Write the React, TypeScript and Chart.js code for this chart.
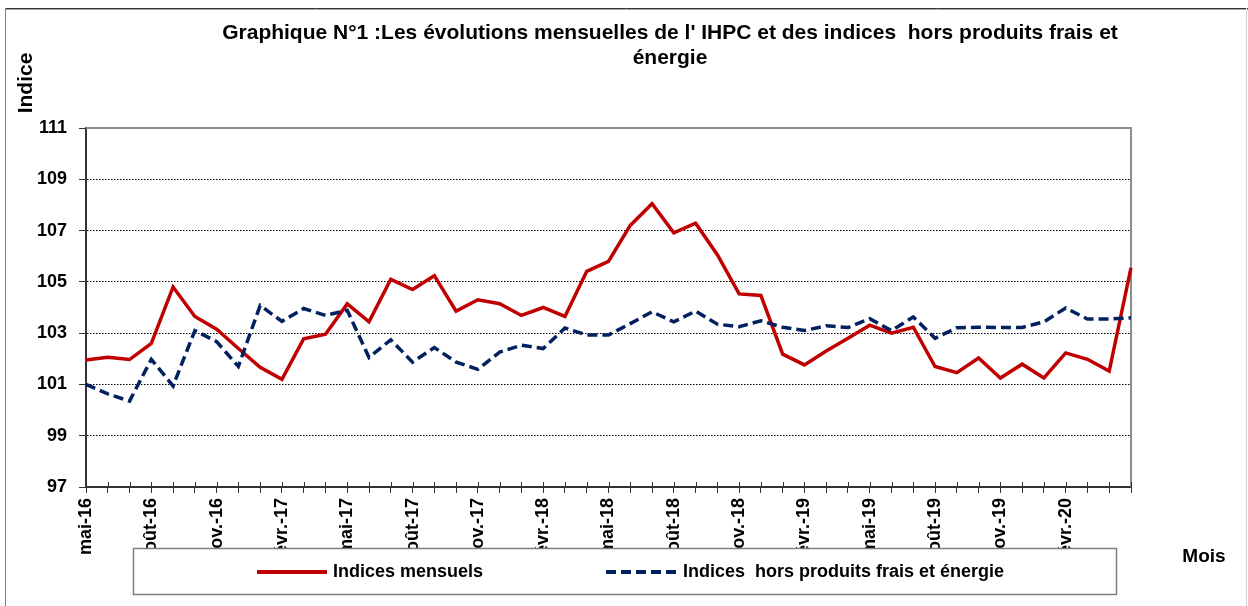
import React, { useEffect, useRef } from "react";
import { Chart, registerables } from "chart.js";

Chart.register(...registerables);

const MONTHS: string[] = [
  "mai-16", "juin-16", "juil.-16", "août-16", "sept.-16", "oct.-16", "nov.-16", "déc.-16",
  "janv.-17", "févr.-17", "mars-17", "avr.-17", "mai-17", "juin-17", "juil.-17", "août-17", "sept.-17", "oct.-17", "nov.-17", "déc.-17",
  "janv.-18", "févr.-18", "mars-18", "avr.-18", "mai-18", "juin-18", "juil.-18", "août-18", "sept.-18", "oct.-18", "nov.-18", "déc.-18",
  "janv.-19", "févr.-19", "mars-19", "avr.-19", "mai-19", "juin-19", "juil.-19", "août-19", "sept.-19", "oct.-19", "nov.-19", "déc.-19",
  "janv.-20", "févr.-20", "mars-20", "avr.-20", "mai-20",
];

const IHPC: number[] = [
  101.95, 102.06, 101.97, 102.6, 104.8, 103.65, 103.15, 102.4, 101.67, 101.2,
  102.78, 102.96, 104.14, 103.44, 105.1, 104.7, 105.24, 103.86, 104.3, 104.15,
  103.69, 104.0, 103.65, 105.41, 105.8, 107.2, 108.05, 106.91, 107.29, 106.06,
  104.53, 104.47, 102.18, 101.76, 102.3, 102.8, 103.31, 103.0, 103.23, 101.7,
  101.46, 102.03, 101.25, 101.79, 101.25, 102.23, 101.98, 101.52, 105.55,
];

const CORE: number[] = [
  101.0, 100.63, 100.35, 101.98, 100.94, 103.1, 102.67, 101.7, 104.08, 103.46,
  103.96, 103.69, 103.89, 102.05, 102.74, 101.87, 102.44, 101.87, 101.59, 102.26,
  102.53, 102.4, 103.2, 102.93, 102.93, 103.37, 103.83, 103.44, 103.86, 103.35,
  103.25, 103.48, 103.23, 103.1, 103.29, 103.22, 103.56, 103.1, 103.63, 102.8,
  103.21, 103.23, 103.22, 103.22, 103.44, 103.98, 103.55, 103.55, 103.6,
];

const SERIES_NAMES: string[] = ["Indices mensuels", "Indices  hors produits frais et énergie"];
const TITLE_LINES: string[] = [
  "Graphique N°1 :Les évolutions mensuelles de l' IHPC et des indices  hors produits frais et",
  "énergie",
];
const Y_TITLE = "Indice";
const X_TITLE = "Mois";
const Y_MIN = 97;
const Y_MAX = 111;
const Y_STEP = 2;
const LABEL_EVERY = 3;
const LAST_LABEL_INDEX = 45;

const FONT = "'Liberation Sans', Arial, Helvetica, sans-serif";
const RED = "#C00000";
const NAVY = "#002060";
const DASH = [10, 5];

const decorPlugin = {
  id: "decor",
  beforeDatasetsDraw(chart: any) {
    const { ctx, chartArea } = chart;
    const { left, right, top, bottom } = chartArea;
    ctx.save();
    ctx.strokeStyle = "#8c8c8c";
    ctx.lineWidth = 2;
    ctx.beginPath();
    ctx.moveTo(left, top);
    ctx.lineTo(right, top);
    ctx.lineTo(right, bottom);
    ctx.stroke();
    const xs = chart.scales.x;
    ctx.strokeStyle = "#333";
    ctx.lineWidth = 1;
    ctx.beginPath();
    for (let i = 0; i < xs.ticks.length; i++) {
      const px = Math.round(xs.getPixelForTick(i)) + 0.5;
      ctx.moveTo(px, bottom - 5);
      ctx.lineTo(px, bottom);
    }
    ctx.stroke();
    ctx.restore();
  },
  afterDraw(chart: any) {
    const { ctx } = chart;
    ctx.save();
    ctx.lineWidth = 1;
    ctx.strokeStyle = "#333";
    ctx.beginPath();
    ctx.moveTo(5, 8.5);
    ctx.lineTo(1248, 8.5);
    ctx.stroke();
    ctx.strokeStyle = "#aaa";
    ctx.beginPath();
    ctx.moveTo(5, 9.5);
    ctx.lineTo(1248, 9.5);
    ctx.stroke();
    ctx.strokeStyle = "#808080";
    ctx.beginPath();
    ctx.moveTo(5.5, 8);
    ctx.lineTo(5.5, 606);
    ctx.stroke();
    ctx.strokeStyle = "#d0d0d0";
    ctx.beginPath();
    ctx.moveTo(1246.5, 8);
    ctx.lineTo(1246.5, 606);
    ctx.stroke();

    ctx.fillStyle = "#000";
    ctx.font = `bold 21px ${FONT}`;
    ctx.textAlign = "center";
    ctx.textBaseline = "middle";
    ctx.fillText(TITLE_LINES[0], 670, 33);
    ctx.fillText(TITLE_LINES[1], 670, 58);

    ctx.save();
    ctx.translate(26, 83);
    ctx.rotate(-Math.PI / 2);
    ctx.font = `bold 21px ${FONT}`;
    ctx.fillText(Y_TITLE, 0, 0);
    ctx.restore();

    ctx.font = `bold 19px ${FONT}`;
    ctx.textAlign = "center";
    ctx.fillText(X_TITLE, 1204, 557);

    const lx = 133.5, ly = 548.5, lw = 983, lh = 46;
    ctx.fillStyle = "#fff";
    ctx.fillRect(lx, ly, lw, lh);
    ctx.strokeStyle = "#7f7f7f";
    ctx.lineWidth = 1.5;
    ctx.strokeRect(lx, ly, lw, lh);

    const cy = 572;
    ctx.lineWidth = 4;
    ctx.strokeStyle = RED;
    ctx.beginPath();
    ctx.moveTo(257, cy);
    ctx.lineTo(327, cy);
    ctx.stroke();
    ctx.strokeStyle = NAVY;
    ctx.setLineDash(DASH);
    ctx.beginPath();
    ctx.moveTo(606, cy);
    ctx.lineTo(676, cy);
    ctx.stroke();
    ctx.setLineDash([]);

    ctx.fillStyle = "#000";
    ctx.font = `bold 18px ${FONT}`;
    ctx.textAlign = "left";
    ctx.textBaseline = "middle";
    ctx.fillText(SERIES_NAMES[0], 333, cy);
    ctx.fillText(SERIES_NAMES[1], 683, cy);
    ctx.restore();
  },
};

export default function App() {
  const canvasRef = useRef<HTMLCanvasElement | null>(null);

  useEffect(() => {
    const canvas = canvasRef.current;
    if (!canvas) return;
    const chart = new Chart(canvas, {
      type: "line",
      data: {
        labels: MONTHS,
        datasets: [
          {
            label: SERIES_NAMES[0],
            data: IHPC,
            borderColor: RED,
            backgroundColor: RED,
            borderWidth: 3.5,
            pointRadius: 0,
            tension: 0,
            fill: false,
            order: 2,
          },
          {
            label: SERIES_NAMES[1],
            data: CORE,
            borderColor: NAVY,
            backgroundColor: NAVY,
            borderWidth: 3.5,
            borderDash: DASH,
            pointRadius: 0,
            tension: 0,
            fill: false,
            order: 1,
          },
        ],
      },
      options: {
        responsive: false,
        animation: false,
        devicePixelRatio: 1,
        layout: { padding: { left: 0, top: 128, right: 117, bottom: 0 } },
        plugins: {
          legend: { display: false },
          title: { display: false },
          tooltip: { enabled: false },
        },
        scales: {
          x: {
            type: "category",
            offset: false,
            afterFit: (s: any) => {
              s.height = 119;
            },
            grid: {
              drawOnChartArea: false,
              drawTicks: true,
              tickLength: 6,
              tickColor: "#333",
              tickWidth: 1,
            },
            border: { display: true, color: "#333", width: 2 },
            ticks: {
              autoSkip: false,
              maxRotation: 90,
              minRotation: 90,
              padding: 5,
              color: "#000",
              font: { family: FONT, size: 18, weight: "bold" },
              callback: (_v: any, i: number) =>
                i % LABEL_EVERY === 0 && i <= LAST_LABEL_INDEX ? MONTHS[i] : "",
            },
          },
          y: {
            min: Y_MIN,
            max: Y_MAX,
            afterFit: (s: any) => {
              s.width = 86;
            },
            grid: {
              color: "#000",
              lineWidth: 1,
              drawTicks: true,
              tickLength: 7,
              tickColor: "#333",
              tickWidth: 1,
              tickBorderDash: [],
            },
            border: { display: true, color: "#333", width: 2, dash: [1.5, 1.5] },
            ticks: {
              stepSize: Y_STEP,
              padding: 12,
              color: "#000",
              font: { family: FONT, size: 18, weight: "bold" },
            },
          },
        },
      },
      plugins: [decorPlugin],
    });
    return () => chart.destroy();
  }, []);

  return (
    <div style={{ position: "absolute", left: 0, top: 0, width: 1248, height: 606, background: "#fff" }}>
      <canvas ref={canvasRef} width={1248} height={606} style={{ display: "block", width: 1248, height: 606 }} />
    </div>
  );
}
